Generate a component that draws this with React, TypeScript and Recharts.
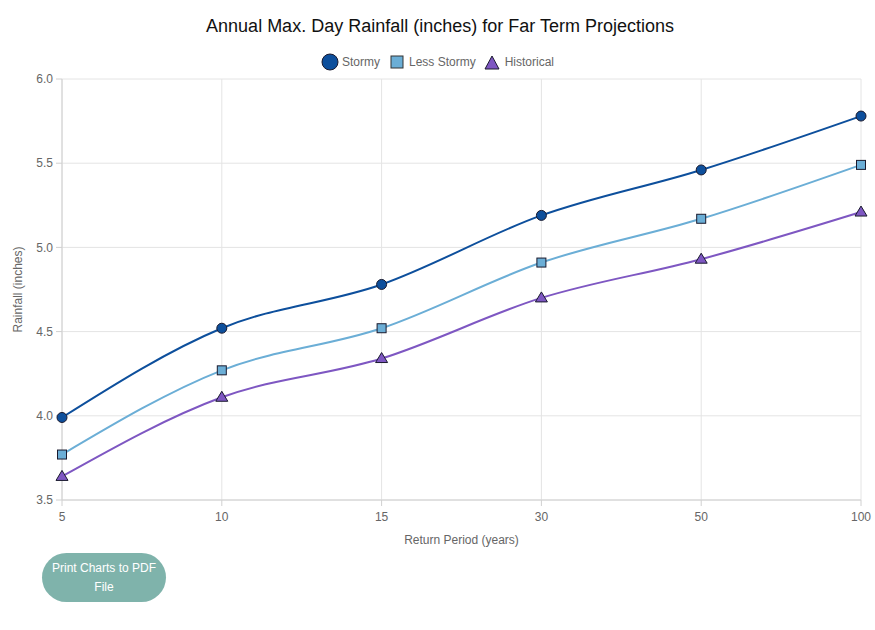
import { LineChart, Line, XAxis, YAxis, CartesianGrid } from 'recharts'

const periods = ['5', '10', '15', '30', '50', '100']
const stormy = [3.99, 4.52, 4.78, 5.19, 5.46, 5.78]
const lessStormy = [3.77, 4.27, 4.52, 4.91, 5.17, 5.49]
const historical = [3.64, 4.11, 4.34, 4.7, 4.93, 5.21]
const yTicks = [3.5, 4.0, 4.5, 5.0, 5.5, 6.0]

const data = periods.map((p, i) => ({
  period: p,
  stormy: stormy[i],
  lessStormy: lessStormy[i],
  historical: historical[i],
}))

const FONT = '"Liberation Sans", Arial, sans-serif'
const C_STORMY = '#0d4f9c'
const C_LESS = '#6baed6'
const C_HIST = '#7e57c2'

const CircleDot = (props: any) => {
  const { cx, cy } = props
  if (cx == null || cy == null) return null
  return <circle cx={cx} cy={cy} r={5} fill={C_STORMY} stroke="#1a1a2e" strokeWidth={1} />
}

const SquareDot = (props: any) => {
  const { cx, cy } = props
  if (cx == null || cy == null) return null
  return <rect x={cx - 4.5} y={cy - 4.5} width={9} height={9} fill={C_LESS} stroke="#1a1a2e" strokeWidth={1} />
}

const TriangleDot = (props: any) => {
  const { cx, cy } = props
  if (cx == null || cy == null) return null
  return (
    <polygon
      points={`${cx},${cy - 6} ${cx + 6},${cy + 4} ${cx - 6},${cy + 4}`}
      fill={C_HIST}
      stroke="#1a1a2e"
      strokeWidth={1}
    />
  )
}

const LegendBox = () => (
  <div
    style={{
      position: 'absolute',
      left: 0,
      top: 53,
      width: 875,
      display: 'flex',
      justifyContent: 'center',
      alignItems: 'center',
      fontSize: 12,
      color: '#666',
    }}
  >
    <svg width={18} height={18} style={{ marginRight: 3 }}>
      <circle cx={9} cy={9} r={8} fill={C_STORMY} stroke="#1a1a2e" strokeWidth={1} />
    </svg>
    <span style={{ marginRight: 10 }}>Stormy</span>
    <svg width={14} height={14} style={{ marginRight: 5 }}>
      <rect x={1} y={1} width={12} height={12} fill={C_LESS} stroke="#333" strokeWidth={1} />
    </svg>
    <span style={{ marginRight: 8 }}>Less Stormy</span>
    <svg width={16} height={15} style={{ marginRight: 5 }}>
      <polygon points="8,1 15,14 1,14" fill={C_HIST} stroke="#1a1a2e" strokeWidth={1} />
    </svg>
    <span>Historical</span>
  </div>
)

export default function App() {
  return (
    <div style={{ position: 'absolute', left: 0, top: 0, width: 875, height: 630, background: '#fff', fontFamily: FONT }}>
      <div style={{ position: 'absolute', left: 0, top: 16, width: 880, textAlign: 'center', fontSize: 18, color: '#111' }}>
        Annual Max. Day Rainfall (inches) for Far Term Projections
      </div>
      <LegendBox />
      <LineChart width={875} height={630} data={data} margin={{ top: 79, right: 14, bottom: 100, left: 0 }}>
        <CartesianGrid stroke="#e4e4e4" />
        <XAxis
          dataKey="period"
          tick={{ fill: '#666', fontSize: 12, fontFamily: FONT }}
          tickLine={{ stroke: '#d0d0d0' }}
          axisLine={{ stroke: '#d0d0d0' }}
          tickSize={6}
          tickMargin={6}
          label={{ value: 'Return Period (years)', position: 'insideBottom', offset: -14, fill: '#666', fontSize: 12, fontFamily: FONT }}
        />
        <YAxis
          width={62}
          domain={[3.5, 6]}
          ticks={yTicks}
          tickFormatter={(v: number) => v.toFixed(1)}
          tick={{ fill: '#666', fontSize: 12, fontFamily: FONT }}
          tickLine={{ stroke: '#d0d0d0' }}
          axisLine={{ stroke: '#d0d0d0' }}
          tickSize={6}
          tickMargin={3}
          label={{ value: 'Rainfall (inches)', angle: -90, position: 'insideLeft', offset: 18, fill: '#666', fontSize: 12, fontFamily: FONT, style: { textAnchor: 'middle' } }}
        />
        <Line type="monotone" dataKey="stormy" stroke={C_STORMY} strokeWidth={2} dot={<CircleDot />} activeDot={false} isAnimationActive={false} />
        <Line type="monotone" dataKey="lessStormy" stroke={C_LESS} strokeWidth={2} dot={<SquareDot />} activeDot={false} isAnimationActive={false} />
        <Line type="monotone" dataKey="historical" stroke={C_HIST} strokeWidth={2} dot={<TriangleDot />} activeDot={false} isAnimationActive={false} />
      </LineChart>
      <div
        style={{
          position: 'absolute',
          left: 42,
          top: 553,
          width: 124,
          height: 49,
          borderRadius: 25,
          background: '#7fb3ab',
          color: '#fff',
          fontSize: 12,
          lineHeight: '19px',
          textAlign: 'center',
          display: 'flex',
          alignItems: 'center',
          justifyContent: 'center',
        }}
      >
        Print Charts to PDF
        <br />
        File
      </div>
    </div>
  )
}
